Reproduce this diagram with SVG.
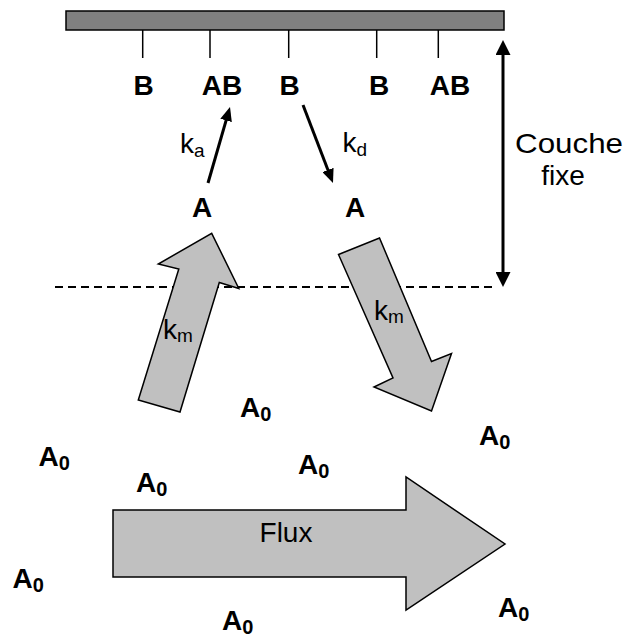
<svg xmlns="http://www.w3.org/2000/svg" width="627" height="639" viewBox="0 0 627 639">
<defs>
<style>
.b{font-family:"Liberation Sans",Arial,sans-serif;font-weight:bold;font-size:28px;fill:#000}
.r{font-family:"Liberation Sans",Arial,sans-serif;font-size:28px;fill:#000}
.s{font-size:19px}
.s0{font-size:20px}
.big{fill:#C0C0C0;stroke:#000;stroke-width:1.5;stroke-linejoin:miter}
.tick{stroke:#000;stroke-width:1.5}
.thick{stroke:#000;stroke-width:3;fill:none}
</style>
<marker id="ah" viewBox="0 0 14 12" markerWidth="14" markerHeight="12" refX="4" refY="6" orient="auto" markerUnits="userSpaceOnUse">
<path d="M0,0 L14,6 L0,12 z" fill="#000"/>
</marker>
<marker id="ah2" viewBox="0 0 15 15" markerWidth="15" markerHeight="15" refX="5" refY="7.5" orient="auto-start-reverse" markerUnits="userSpaceOnUse">
<path d="M0,0 L15,7.5 L0,15 z" fill="#000"/>
</marker>
</defs>
<rect width="627" height="639" fill="#fff"/>

<g id="surface">
<rect x="66" y="11" width="438" height="19" fill="#808080" stroke="#000" stroke-width="1.5"/>
<line class="tick" x1="142.7" y1="30" x2="142.7" y2="58"/>
<line class="tick" x1="210" y1="30" x2="210" y2="58"/>
<line class="tick" x1="288.7" y1="30" x2="288.7" y2="58"/>
<line class="tick" x1="376.7" y1="30" x2="376.7" y2="58"/>
<line class="tick" x1="438.3" y1="30" x2="438.3" y2="58"/>
</g>

<g id="labels-B" text-anchor="middle">
<text class="b" x="143.5" y="95">B</text>
<text class="b" x="222" y="95">AB</text>
<text class="b" x="289.7" y="95">B</text>
<text class="b" x="379" y="95">B</text>
<text class="b" x="450" y="95">AB</text>
</g>

<g id="labels-A" text-anchor="middle">
<text class="b" x="202" y="217">A</text>
<text class="b" x="355" y="217">A</text>
</g>

<g id="boundary">
<line x1="55" y1="287" x2="492" y2="287" stroke="#000" stroke-width="2" stroke-dasharray="8 5"/>
</g>

<g id="connectors">
<line class="thick" x1="208" y1="183" x2="227.2" y2="116.6" marker-end="url(#ah)"/>
<line class="thick" x1="303" y1="105" x2="329.4" y2="173.7" marker-end="url(#ah)"/>
<line class="thick" x1="503" y1="50" x2="503" y2="277" marker-start="url(#ah2)" marker-end="url(#ah2)"/>
</g>

<g id="rate-labels">
<text class="r" x="180" y="153">k<tspan class="s" dy="4">a</tspan></text>
<text class="r" x="342.5" y="152">k<tspan class="s" dy="4">d</tspan></text>
</g>

<g id="couche">
<text class="r" x="515" y="153" textLength="108" lengthAdjust="spacingAndGlyphs">Couche</text>
<text class="r" x="563" y="185" text-anchor="middle">fixe</text>
</g>

<g id="km-up">
<polygon class="big" points="211.7,233.3 238.8,288.5 219.3,282.5 180,412 138.3,400 178.8,269 158.3,264"/>
<text class="r" x="163" y="339">k<tspan class="s" dy="3">m</tspan></text>
</g>

<g id="km-down">
<polygon class="big" points="338.5,254.5 379.5,238 431.5,361.5 451.5,353.5 431.5,411 374,387 393,378"/>
<text class="r" x="374" y="320">k<tspan class="s" dy="3">m</tspan></text>
</g>

<g id="flux">
<polygon class="big" points="113,510 406,510 406,477 505,544 406,610 406,577 113,577"/>
<text class="r" x="286" y="542" text-anchor="middle">Flux</text>
</g>

<g id="A0-labels">
<text class="b" x="240" y="417">A<tspan class="s0" dy="4">0</tspan></text>
<text class="b" x="479" y="445">A<tspan class="s0" dy="4">0</tspan></text>
<text class="b" x="38.5" y="466">A<tspan class="s0" dy="4">0</tspan></text>
<text class="b" x="298" y="474">A<tspan class="s0" dy="4">0</tspan></text>
<text class="b" x="136" y="492">A<tspan class="s0" dy="4">0</tspan></text>
<text class="b" x="12.5" y="588">A<tspan class="s0" dy="4">0</tspan></text>
<text class="b" x="498" y="617">A<tspan class="s0" dy="4">0</tspan></text>
<text class="b" x="222" y="630">A<tspan class="s0" dy="4">0</tspan></text>
</g>
</svg>
